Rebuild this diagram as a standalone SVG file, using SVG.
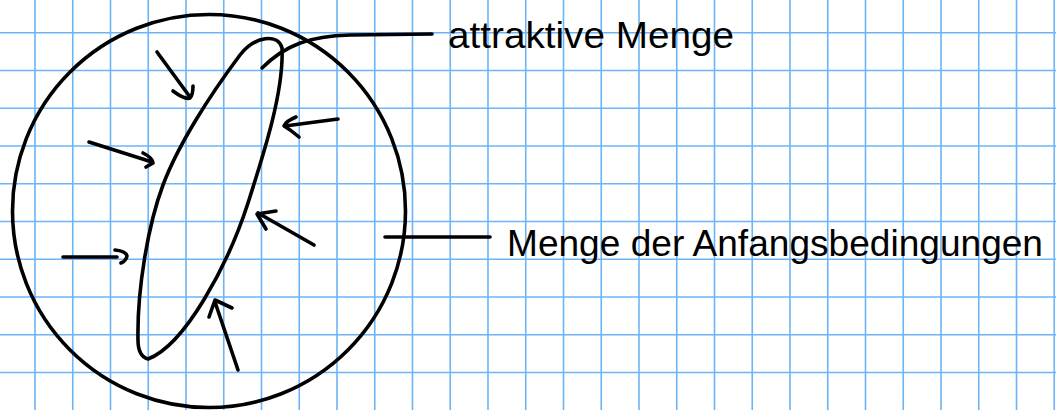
<svg xmlns="http://www.w3.org/2000/svg" width="1056" height="410" viewBox="0 0 1056 410">
<style>
.grid{stroke:#6cb4f7;stroke-width:1.6;fill:none}
.ink{stroke:#000;stroke-width:3.6;fill:none;stroke-linecap:round;stroke-linejoin:round}
.lbl{font-family:"Liberation Sans",Arial,sans-serif;fill:#000}
</style>
<rect width="1056" height="410" fill="#fff"/>
<g id="grid">
<path class="grid" d="M-2.75 0V410M35 0V410M72.75 0V410M110.5 0V410M148.25 0V410M186 0V410M223.75 0V410M261.5 0V410M299.25 0V410M337 0V410M374.75 0V410M412.5 0V410M450.25 0V410M488 0V410M525.75 0V410M563.5 0V410M601.25 0V410M639 0V410M676.75 0V410M714.5 0V410M752.25 0V410M790 0V410M827.75 0V410M865.5 0V410M903.25 0V410M941 0V410M978.75 0V410M1016.5 0V410M1054.25 0V410M0 32.7H1056M0 70.45H1056M0 108.2H1056M0 145.95H1056M0 183.7H1056M0 221.45H1056M0 259.2H1056M0 296.95H1056M0 334.7H1056M0 372.45H1056"/>
</g>
<g id="anfangsmenge">
<circle class="ink" cx="209" cy="211" r="196.5"/>
</g>
<g id="attraktive-menge">
<path class="ink" d="M148,359 C141,357 138,350 138,340 C137,290 148,225 163,185 C178,145 210,95 240,55 C255,36 278,33 282,48 C284,90 265,150 248,203 C228,265 185,345 148,359 Z"/>
</g>
<g id="arrows">
<path class="ink" d="M157,52 L190,97 M173,91 Q185,100 190,98 Q193,95 193,86"/>
<path class="ink" d="M89,142 L152,162 M143,153 Q153,158 153,163 L146,167"/>
<path class="ink" d="M63,257 L117,257 M115,250 Q126,251 127,256 Q126,261 121,263"/>
<path class="ink" d="M338,119 L285,126 M296,117 Q286,121 284,126 Q291,130 299,137"/>
<path class="ink" d="M314,245 L258,213 M276,211 L257,214 L266,229"/>
<path class="ink" d="M238,370 L215,302 M209,317 L215,300 L232,308"/>
</g>
<g id="connectors">
<path class="ink" d="M262,68 C285,45 310,36 350,35 L432,34"/>
<path class="ink" d="M385,237 L490,237"/>
</g>
<g id="label-attraktive">
<text class="lbl" x="448" y="48" font-size="36" textLength="286" lengthAdjust="spacingAndGlyphs">attraktive Menge</text>
</g>
<g id="label-anfang">
<text class="lbl" x="507" y="256" font-size="37" textLength="536" lengthAdjust="spacingAndGlyphs">Menge der Anfangsbedingungen</text>
</g>
</svg>
